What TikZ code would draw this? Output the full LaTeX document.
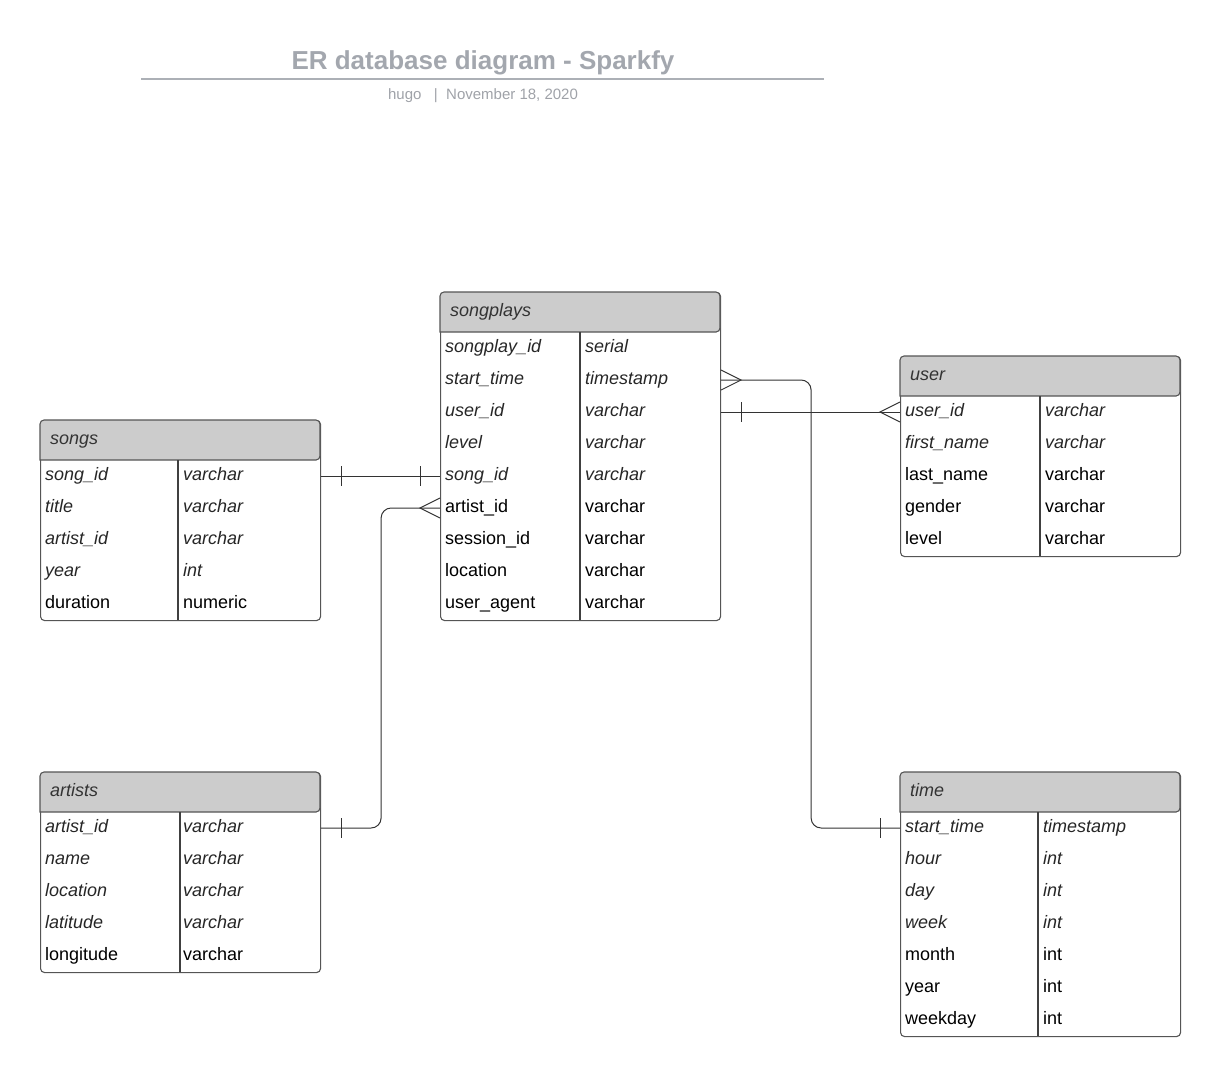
\documentclass[tikz,border=0pt]{standalone}
\usepackage{fontspec}
\setmainfont{Liberation Sans}
\usetikzlibrary{calc}

\definecolor{headgray}{HTML}{CCCCCC}
\definecolor{framegray}{HTML}{555555}
\definecolor{titlegray}{HTML}{A3A7AE}
\definecolor{subgray}{HTML}{9FA2A8}

\begin{document}
\begin{tikzpicture}[
    x=1pt, y=-1pt,
    tbl/.style={
      draw=framegray,
      line width=1.1pt,
      rounded corners=4pt,
      minimum width=280pt,
      anchor=north west,
      inner sep=0pt
    },
    headfill/.style={draw=framegray, line width=1.1pt, fill=headgray},
    frame/.style={draw=black!75, line width=1.1pt},
    hdr/.style={anchor=west, font=\itshape\fontsize{18}{22}\selectfont, text=black!80,
      text height=13pt, text depth=4pt, inner sep=0pt},
    key/.style={anchor=west, font=\itshape\fontsize{18}{22}\selectfont, text=black!85,
      text height=13pt, text depth=4pt, inner sep=0pt},
    col/.style={anchor=west, font=\fontsize{18}{22}\selectfont, text=black,
      text height=13pt, text depth=4pt, inner sep=0pt},
    link/.style={draw=black!80, line width=1pt},
    rule/.style={draw=titlegray!90, line width=2pt}
  ]
    \useasboundingbox (0,0) rectangle (1220,1076);

    % title block
    \node[text=titlegray, font=\bfseries\fontsize{26}{30}\selectfont] (title) at (483,63) {ER database diagram - Sparkfy};
    \draw[rule] (141,79) -- (824,79);
    \node[text=subgray, font=\fontsize{15}{18}\selectfont] (subtitle) at (483,96) {hugo\ \ \ |\ \ November 18, 2020};

    % songplays
    \node[tbl, minimum height=328pt] (sp) at (440,292) {};
    \draw[headfill] (440,332) [rounded corners=4pt] |- (580,292) -| (720,332) [sharp corners] -- cycle;
    \draw[frame] (580,332) -- (580,620);
    \node[hdr] (sp-h) at (450,312) {songplays};
    \node[key] (sp-1) at (445,348) {songplay\_id}; \node[key] (sp-1t) at (585,348) {serial};
    \node[key] (sp-2) at (445,380) {start\_time};  \node[key] (sp-2t) at (585,380) {timestamp};
    \node[key] (sp-3) at (445,412) {user\_id};     \node[key] (sp-3t) at (585,412) {varchar};
    \node[key] (sp-4) at (445,444) {level};        \node[key] (sp-4t) at (585,444) {varchar};
    \node[key] (sp-5) at (445,476) {song\_id};     \node[key] (sp-5t) at (585,476) {varchar};
    \node[col] (sp-6) at (445,508) {artist\_id};   \node[col] (sp-6t) at (585,508) {varchar};
    \node[col] (sp-7) at (445,540) {session\_id};  \node[col] (sp-7t) at (585,540) {varchar};
    \node[col] (sp-8) at (445,572) {location};     \node[col] (sp-8t) at (585,572) {varchar};
    \node[col] (sp-9) at (445,604) {user\_agent};  \node[col] (sp-9t) at (585,604) {varchar};

    % songs
    \node[tbl, minimum height=200pt] (sg) at (40,420) {};
    \draw[headfill] (40,460) [rounded corners=4pt] |- (180,420) -| (320,460) [sharp corners] -- cycle;
    \draw[frame] (178,460) -- (178,620);
    \node[hdr] (sg-h) at (50,440) {songs};
    \node[key] (sg-1) at (45,476) {song\_id};   \node[key] (sg-1t) at (183,476) {varchar};
    \node[key] (sg-2) at (45,508) {title};      \node[key] (sg-2t) at (183,508) {varchar};
    \node[key] (sg-3) at (45,540) {artist\_id}; \node[key] (sg-3t) at (183,540) {varchar};
    \node[key] (sg-4) at (45,572) {year};       \node[key] (sg-4t) at (183,572) {int};
    \node[col] (sg-5) at (45,604) {duration};   \node[col] (sg-5t) at (183,604) {numeric};

    % user
    \node[tbl, minimum height=200pt] (us) at (900,356) {};
    \draw[headfill] (900,396) [rounded corners=4pt] |- (1040,356) -| (1180,396) [sharp corners] -- cycle;
    \draw[frame] (1040,396) -- (1040,556);
    \node[hdr] (us-h) at (910,376) {user};
    \node[key] (us-1) at (905,412) {user\_id};    \node[key] (us-1t) at (1045,412) {varchar};
    \node[key] (us-2) at (905,444) {first\_name}; \node[key] (us-2t) at (1045,444) {varchar};
    \node[col] (us-3) at (905,476) {last\_name};  \node[col] (us-3t) at (1045,476) {varchar};
    \node[col] (us-4) at (905,508) {gender};      \node[col] (us-4t) at (1045,508) {varchar};
    \node[col] (us-5) at (905,540) {level};       \node[col] (us-5t) at (1045,540) {varchar};

    % artists
    \node[tbl, minimum height=200pt] (ar) at (40,772) {};
    \draw[headfill] (40,812) [rounded corners=4pt] |- (180,772) -| (320,812) [sharp corners] -- cycle;
    \draw[frame] (180,812) -- (180,972);
    \node[hdr] (ar-h) at (50,792) {artists};
    \node[key] (ar-1) at (45,828) {artist\_id}; \node[key] (ar-1t) at (183,828) {varchar};
    \node[key] (ar-2) at (45,860) {name};       \node[key] (ar-2t) at (183,860) {varchar};
    \node[key] (ar-3) at (45,892) {location};   \node[key] (ar-3t) at (183,892) {varchar};
    \node[key] (ar-4) at (45,924) {latitude};   \node[key] (ar-4t) at (183,924) {varchar};
    \node[col] (ar-5) at (45,956) {longitude};  \node[col] (ar-5t) at (183,956) {varchar};

    % time
    \node[tbl, minimum height=264pt] (tm) at (900,772) {};
    \draw[headfill] (900,812) [rounded corners=4pt] |- (1040,772) -| (1180,812) [sharp corners] -- cycle;
    \draw[frame] (1038,812) -- (1038,1036);
    \node[hdr] (tm-h) at (910,792) {time};
    \node[key] (tm-1) at (905,828) {start\_time}; \node[key] (tm-1t) at (1043,828) {timestamp};
    \node[key] (tm-2) at (905,860) {hour};        \node[key] (tm-2t) at (1043,860) {int};
    \node[key] (tm-3) at (905,892) {day};         \node[key] (tm-3t) at (1043,892) {int};
    \node[key] (tm-4) at (905,924) {week};        \node[key] (tm-4t) at (1043,924) {int};
    \node[col] (tm-5) at (905,956) {month};       \node[col] (tm-5t) at (1043,956) {int};
    \node[col] (tm-6) at (905,988) {year};        \node[col] (tm-6t) at (1043,988) {int};
    \node[col] (tm-7) at (905,1020) {weekday};    \node[col] (tm-7t) at (1043,1020) {int};

    % songs -- songplays (one to one)
    \draw[link] (sg.east |- sg-1) -- (sp.west |- sp-5);
    \draw[link] ($(sg.east |- sg-1)+(20,-10)$) -- ++(0,20);
    \draw[link] ($(sp.west |- sp-5)+(-20,-10)$) -- ++(0,20);

    % artists -- songplays (one to many)
    \draw[link, rounded corners=10pt] (ar.east |- ar-1) -| ($(ar.east |- sp-6)+(60,0)$) -- (sp.west |- sp-6);
    \draw[link] ($(ar.east |- ar-1)+(20,-10)$) -- ++(0,20);
    \draw[link] ($(sp.west |- sp-6)+(0,-10)$) -- ++(-20,10) -- ++(20,10);

    % songplays -- user (one to many)
    \draw[link] (sp.east |- sp-3) -- (us.west |- us-1);
    \draw[link] ($(sp.east |- sp-3)+(20,-10)$) -- ++(0,20);
    \draw[link] ($(us.west |- us-1)+(0,-10)$) -- ++(-20,10) -- ++(20,10);

    % time -- songplays (one to many)
    \draw[link, rounded corners=10pt] (tm.west |- tm-1) -| ($(sp.east |- sp-2)+(90,0)$) -- (sp.east |- sp-2);
    \draw[link] ($(tm.west |- tm-1)+(-20,-10)$) -- ++(0,20);
    \draw[link] ($(sp.east |- sp-2)+(0,-10)$) -- ++(20,10) -- ++(-20,10);
  \end{tikzpicture}
\end{document}
